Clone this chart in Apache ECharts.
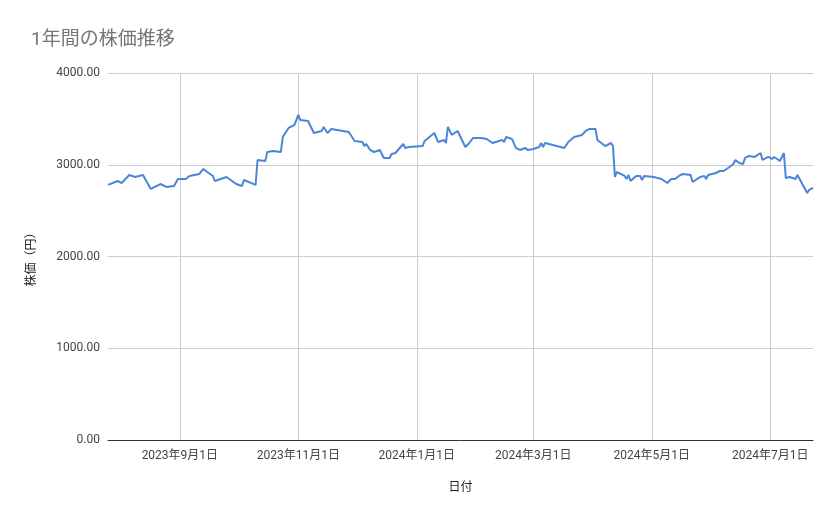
<!DOCTYPE html>
<html>
<head>
<meta charset="utf-8">
<script src="https://cdn.jsdelivr.net/npm/echarts@6/dist/echarts.min.js"></script>
<style>html,body{margin:0;padding:0;background:#fff}#chart{width:839px;height:519px}</style>
</head>
<body>
<div id="chart"></div>
<script>
var dates = [
  '2023-07-26','2023-07-31','2023-08-02','2023-08-06','2023-08-09','2023-08-13','2023-08-17','2023-08-22','2023-08-25','2023-08-29',
  '2023-08-31','2023-09-04','2023-09-06','2023-09-11','2023-09-13','2023-09-18','2023-09-19','2023-09-25','2023-09-30','2023-10-03',
  '2023-10-04','2023-10-10','2023-10-11','2023-10-15','2023-10-16','2023-10-19','2023-10-23','2023-10-24','2023-10-27','2023-10-30',
  '2023-11-01','2023-11-02','2023-11-06','2023-11-09','2023-11-13','2023-11-14','2023-11-16','2023-11-18','2023-11-27','2023-11-30',
  '2023-12-04','2023-12-05','2023-12-06','2023-12-08','2023-12-10','2023-12-13','2023-12-15','2023-12-18','2023-12-19','2023-12-21',
  '2023-12-25','2023-12-26','2023-12-28','2024-01-04','2024-01-05','2024-01-10','2024-01-12','2024-01-15','2024-01-16','2024-01-17',
  '2024-01-19','2024-01-22','2024-01-26','2024-01-28','2024-01-30','2024-01-31','2024-02-03','2024-02-06','2024-02-09','2024-02-14',
  '2024-02-15','2024-02-16','2024-02-19','2024-02-21','2024-02-23','2024-02-26','2024-02-27','2024-03-01','2024-03-04','2024-03-05',
  '2024-03-06','2024-03-07','2024-03-17','2024-03-19','2024-03-20','2024-03-22','2024-03-26','2024-03-28','2024-03-30','2024-04-02',
  '2024-04-03','2024-04-05','2024-04-07','2024-04-10','2024-04-11','2024-04-12','2024-04-13','2024-04-17','2024-04-18','2024-04-19',
  '2024-04-20','2024-04-23','2024-04-25','2024-04-26','2024-04-27','2024-05-02','2024-05-06','2024-05-09','2024-05-11','2024-05-13',
  '2024-05-15','2024-05-17','2024-05-21','2024-05-22','2024-05-26','2024-05-28','2024-05-29','2024-05-30','2024-06-03','2024-06-05',
  '2024-06-07','2024-06-10','2024-06-12','2024-06-13','2024-06-15','2024-06-17','2024-06-18','2024-06-19','2024-06-20','2024-06-23',
  '2024-06-26','2024-06-27','2024-06-30','2024-07-02','2024-07-03','2024-07-06','2024-07-08','2024-07-09','2024-07-11','2024-07-14',
  '2024-07-15','2024-07-20','2024-07-21','2024-07-23'
];
var prices = [
  2780,2823,2801,2888,2867,2888,2736,2790,2758,2768,
  2845,2845,2878,2899,2954,2878,2823,2867,2790,2768,
  2834,2780,3052,3041,3139,3150,3139,3303,3401,3434,
  3543,3488,3477,3346,3368,3412,3346,3390,3357,3259,
  3248,3204,3226,3161,3139,3161,3074,3074,3117,3128,
  3226,3183,3194,3204,3259,3346,3248,3270,3237,3412,
  3325,3368,3194,3237,3292,3281,3292,3281,3237,3270,
  3248,3303,3281,3183,3161,3183,3161,3172,3194,3237,
  3194,3237,3183,3248,3237,3303,3325,3368,3390,3390,
  3270,3237,3204,3237,3204,2867,2921,2878,2845,2888,
  2823,2878,2878,2834,2878,2867,2845,2801,2845,2845,
  2878,2899,2888,2812,2867,2878,2845,2888,2910,2932,
  2932,2976,3008,3052,3019,3008,3074,3085,3096,3085,
  3128,3052,3085,3063,3085,3041,3128,2856,2867,2845,
  2888,2692,2725,2747
];
var xTicks = ['2023-09-01','2023-11-01','2024-01-01','2024-03-01','2024-05-01','2024-07-01'];
var yTicks = [0, 1000, 2000, 3000, 4000];

var font = 'Roboto, "Noto Sans CJK JP", sans-serif';
function toTime(d) { return +new Date(d + 'T00:00:00'); }
var tickTimes = xTicks.map(toTime);
var seriesData = dates.map(function (d, i) { return [toTime(d), prices[i]]; });

var chart = echarts.init(document.getElementById('chart'));
chart.setOption({
  backgroundColor: '#fff',
  animation: false,
  title: {
    text: '1年間の株価推移',
    left: 26, top: 26,
    textStyle: { fontFamily: font, fontSize: 19, fontWeight: 'normal', color: '#757575' }
  },
  grid: { left: 108, right: 26, top: 73, bottom: 79 },
  xAxis: {
    type: 'value',
    min: toTime('2023-07-26'),
    max: toTime('2024-07-23'),
    name: '日付',
    nameLocation: 'middle',
    nameGap: 42,
    nameTextStyle: { fontFamily: font, fontSize: 12, color: '#222' },
    axisLine: { lineStyle: { color: '#333', width: 1 } },
    axisTick: { show: false, customValues: tickTimes },
    axisLabel: {
      customValues: tickTimes,
      fontFamily: font, fontSize: 12, color: '#444', margin: 10,
      formatter: function (v) {
        var d = new Date(v);
        return d.getFullYear() + '年' + (d.getMonth() + 1) + '月' + d.getDate() + '日';
      }
    },
    splitLine: { show: true, lineStyle: { color: '#ccc' } }
  },
  yAxis: {
    type: 'value',
    min: yTicks[0], max: yTicks[yTicks.length - 1], interval: 1000,
    name: '株価（円）',
    nameLocation: 'middle',
    nameGap: 70,
    nameRotate: 90,
    nameTextStyle: { fontFamily: font, fontSize: 12, color: '#222' },
    axisLine: { show: false },
    axisTick: { show: false },
    axisLabel: {
      fontFamily: font, fontSize: 12, color: '#444', margin: 8,
      formatter: function (v) { return v.toFixed(2); }
    },
    splitLine: { lineStyle: { color: '#ccc' } }
  },
  series: [{
    type: 'line',
    data: seriesData,
    symbol: 'none',
    lineStyle: { color: '#4a86d8', width: 2 }
  }]
});
</script>
</body>
</html>
